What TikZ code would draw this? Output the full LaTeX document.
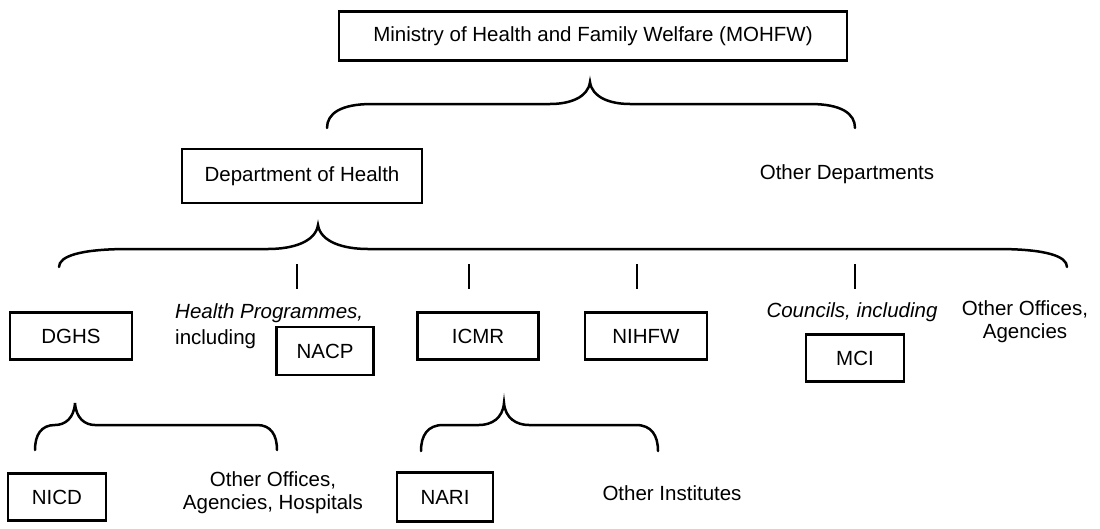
\documentclass[tikz,border=0pt]{standalone}
\usepackage{fontspec}
\setmainfont{Liberation Sans}
\usetikzlibrary{calc}
\newcommand\bracepath[6]{%
 \draw[brace] let \p1=(#1), \p2=(#2), \p3=(#3), \n1={\y1+#4pt} in
  (\p1) .. controls (\x1,{\y1+0.6*#4pt}) and ({\x1+0.3*#5pt},\n1) .. ({\x1+#5pt},\n1)
  -- ({\x2-#6pt},\n1) .. controls ({\x2-0.5*#6pt},\n1) and ({\x2-0.05*#6pt},{\n1+0.3*(\y2-\n1)}) .. (\p2)
  .. controls ({\x2+0.05*#6pt},{\n1+0.3*(\y2-\n1)}) and ({\x2+0.5*#6pt},\n1) .. ({\x2+#6pt},\n1)
  -- ({\x3-#5pt},\n1) .. controls ({\x3-0.3*#5pt},\n1) and (\x3,{\y3+0.6*#4pt}) .. (\p3);}
\begin{document}
\begin{tikzpicture}[x=1pt,y=-1pt,
  box/.style={draw, line width=2.2pt, inner sep=0pt, font=\fontsize{20.5}{24}\selectfont},
  lbl/.style={font=\fontsize{20.5}{23}\selectfont, inner sep=0pt, align=center},
  brace/.style={line width=2.5pt, line cap=round},
  tick/.style={line width=2.5pt}]
\useasboundingbox (0,0) rectangle (1100,528);
% boxes
\node[box, minimum width=508pt, minimum height=49pt] (mohfw) at (593,36) {Ministry of Health and Family Welfare (MOHFW)};
\node[lbl] (otherdep) at (847,174) {Other Departments};
\node[box, minimum width=240pt, minimum height=54pt] (doh) at (302,176) {Department of Health};
\node[box, minimum width=122pt, minimum height=47pt] (dghs) at (71,336) {DGHS};
\node[lbl, anchor=west] (hp) at (175,313) {\itshape Health Programmes,};
\node[lbl, anchor=west] (incl) at (175,339) {including};
\node[box, minimum width=97pt, minimum height=48pt] (nacp) at (325,351) {NACP};
\node[box, minimum width=121pt, minimum height=47pt] (icmr) at (478,336) {ICMR};
\node[box, minimum width=122pt, minimum height=47pt] (nihfw) at (646,336) {NIHFW};
\node[lbl] (councils) at (852,312) {\itshape Councils, including};
\node[box, minimum width=98pt, minimum height=47pt] (mci) at (855,358) {MCI};
\node[lbl] (otheroff) at (1025,322) {Other Offices,\\Agencies};
\node[box, minimum width=98pt, minimum height=47pt] (nicd) at (57,497) {NICD};
\node[lbl] (otherhosp) at (273,493) {Other Offices,\\Agencies, Hospitals};
\node[box, minimum width=96pt, minimum height=49pt] (nari) at (445,497) {NARI};
\node[lbl] (otherinst) at (672,493) {Other Institutes};
% brace coordinates
\coordinate (aL) at (327,128); \coordinate (aT) at (590,82); \coordinate (aR) at (855,128);
\coordinate (bL) at (59,267); \coordinate (bT) at (318,225); \coordinate (bR) at (1067,267);
\coordinate (cL) at (35,450); \coordinate (cT) at (75,403); \coordinate (cR) at (277,450);
\coordinate (dL) at (421,451); \coordinate (dT) at (504,403); \coordinate (dR) at (658,451);
\bracepath{aL}{aT}{aR}{24}{45}{40}
\bracepath{bL}{bT}{bR}{18}{70}{50}
\bracepath{cL}{cT}{cR}{25}{20}{20}
\bracepath{dL}{dT}{dR}{26}{22}{25}
% ticks
\coordinate (k1a) at (297,264); \coordinate (k1b) at (297,289);
\coordinate (k2a) at (469,264); \coordinate (k2b) at (469,289);
\coordinate (k3a) at (637,264); \coordinate (k3b) at (637,289);
\coordinate (k4a) at (855,264); \coordinate (k4b) at (855,289);
\draw[tick] (k1a) -- (k1b);
\draw[tick] (k2a) -- (k2b);
\draw[tick] (k3a) -- (k3b);
\draw[tick] (k4a) -- (k4b);
\end{tikzpicture}
\end{document}
